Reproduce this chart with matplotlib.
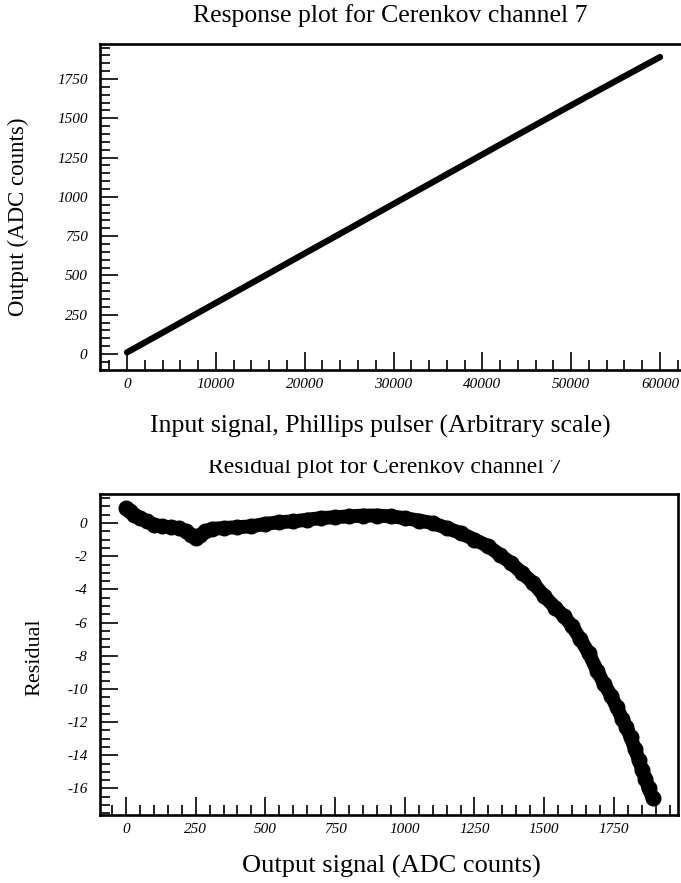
import matplotlib
matplotlib.use("Agg")
import matplotlib.pyplot as plt
from matplotlib.ticker import MultipleLocator
from matplotlib.transforms import Bbox

plt.rcParams["axes.unicode_minus"] = False

# response data: pulser input vs ADC output
input_signal = [0, 5000, 10000, 15000, 20000, 25000, 30000, 35000, 40000,
                45000, 50000, 55000, 60000]
output_adc = [10, 167, 325, 482, 640, 797, 955, 1112, 1270, 1427, 1583, 1737, 1890]

# residual data: output vs residual
res_output = [0, 15, 30, 50, 75, 100, 130, 160, 190, 215, 235, 250, 265, 285,
              310, 350, 400, 450, 500, 550, 600, 650, 700, 750, 800, 850, 900,
              950, 1000, 1050, 1100, 1150, 1200, 1250, 1300, 1340, 1380, 1420,
              1460, 1500, 1540, 1570, 1600, 1630, 1660, 1690, 1715, 1740, 1760,
              1780, 1795, 1810, 1825, 1840, 1852, 1863, 1875, 1890]
residual = [0.9, 0.7, 0.5, 0.3, 0.1, -0.1, -0.2, -0.25, -0.3, -0.5, -0.75, -0.9,
            -0.75, -0.5, -0.35, -0.3, -0.25, -0.2, -0.05, 0.05, 0.1, 0.2, 0.3,
            0.35, 0.4, 0.45, 0.45, 0.4, 0.3, 0.15, 0.0, -0.3, -0.6, -1.0, -1.4,
            -1.9, -2.4, -3.0, -3.6, -4.4, -5.1, -5.6, -6.2, -7.0, -7.85, -8.9,
            -9.7, -10.4, -11.1, -11.8, -12.3, -12.9, -13.6, -14.3, -14.9, -15.4,
            -16.0, -16.6]

serif = "Liberation Serif"
W, H = 681, 883
fig = plt.figure(figsize=(W / 100, H / 100), dpi=100)


def style_axes(ax):
    for s in ["left", "bottom", "top", "right"]:
        ax.spines[s].set_linewidth(1.9)
    ax.tick_params(which="both", direction="in", top=False, right=False,
                   width=1.2, labelsize=11)
    ax.tick_params(which="major", length=13)
    ax.tick_params(which="minor", length=7)
    ax.tick_params(axis="y", pad=9)
    ax.tick_params(axis="x", pad=6)
    for lab in ax.get_xticklabels() + ax.get_yticklabels():
        lab.set_fontfamily(serif)
        lab.set_fontstyle("italic")


# top: response plot
ax1 = fig.add_axes([100 / W, 1 - 370 / H, 600 / W, 326 / H])
ax1.plot(input_signal, output_adc, color="black", linewidth=4.5,
         solid_capstyle="round")
ax1.set_xlim(-3040, 64500)
ax1.set_ylim(-102, 1973)
ax1.xaxis.set_major_locator(MultipleLocator(10000))
ax1.xaxis.set_minor_locator(MultipleLocator(2000))
ax1.yaxis.set_major_locator(MultipleLocator(250))
ax1.yaxis.set_minor_locator(MultipleLocator(50))
style_axes(ax1)

# bottom: residual plot
ax2 = fig.add_axes([100 / W, 1 - 815 / H, 578 / W, 321 / H])
ax2.plot(res_output, residual, color="black", linewidth=10, marker="o",
         markersize=10.5, solid_capstyle="round")
ax2.set_xlim(-93, 1980)
ax2.set_ylim(-17.6, 1.75)
ax2.xaxis.set_major_locator(MultipleLocator(250))
ax2.xaxis.set_minor_locator(MultipleLocator(50))
ax2.yaxis.set_major_locator(MultipleLocator(2))
ax2.yaxis.set_minor_locator(MultipleLocator(0.5))
style_axes(ax2)

# titles and axis labels
fig.text(390 / W, 1 - 16 / H, "Response plot for Cerenkov channel 7",
         ha="center", va="center", fontsize=18.5, family=serif)
fig.text(18 / W, 1 - 217 / H, "Output (ADC counts)", rotation=90,
         ha="center", va="center", fontsize=16.5, family=serif)
fig.text(380 / W, 1 - 426 / H, "Input signal, Phillips pulser (Arbitrary scale)",
         ha="center", va="center", fontsize=18.5, family=serif)
t = fig.text(385 / W, 1 - 467 / H, "Residual plot for Cerenkov channel 7",
             ha="center", va="center", fontsize=17, family=serif)
t.set_clip_box(Bbox([[0, 0], [W, H - 460]]))
t.set_clip_on(True)
fig.text(35 / W, 1 - 657 / H, "Residual", rotation=90,
         ha="center", va="center", fontsize=16, family=serif)
fig.text(391 / W, 1 - 866 / H, "Output signal (ADC counts)",
         ha="center", va="center", fontsize=19, family=serif)

fig.savefig("out.png", dpi=100)
